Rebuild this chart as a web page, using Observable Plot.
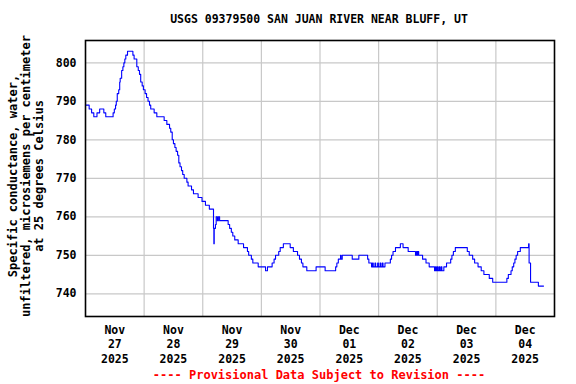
<!DOCTYPE html>
<html>
<head>
<meta charset="utf-8">
<script src="https://cdn.jsdelivr.net/npm/d3@7"></script>
<script src="https://cdn.jsdelivr.net/npm/@observablehq/plot@0.6"></script>
<style>
  html, body { margin: 0; padding: 0; background: white; }
  #wrap { position: relative; width: 576px; height: 384px; font-family: "DejaVu Sans Mono", monospace; font-weight: bold; }
  #title { position: absolute; left: 0; width: 638px; top: 12px; text-align: center; font-size: 11.5px; color: black; }
  #ylab { position: absolute; left: 27px; top: 176px; width: 320px; margin-left: -160px; margin-top: -20px; height: 40px;
          transform: rotate(-90deg); text-align: center; font-size: 12px; line-height: 13px; white-space: pre; color: black; }
  #caption { position: absolute; left: 0; width: 638px; top: 368px; text-align: center; font-size: 12px; color: #ff0000; white-space: pre; }
  #chart { position: absolute; left: 0; top: 0; }
</style>
</head>
<body>
<div id="wrap">
  <div id="chart"></div>
  <div id="title"></div>
  <div id="ylab"></div>
  <div id="caption"></div>
</div>
<script>
const titleText = "USGS 09379500 SAN JUAN RIVER NEAR BLUFF, UT";
const yLabelLines = ["Specific conductance, water,", "unfiltered, microsiemens per centimeter", "at 25 degrees Celsius"];
const captionText = "---- Provisional Data Subject to Revision ----";

// series start (hours are counted from 2025-11-27 00:00)
const seriesStart = "2025-11-27T00:00:00Z";
const seriesEnd = "2025-12-05T00:00:00Z";

// hours since start, and specific conductance (uS/cm)
const hours = [
  0, 1.5, 2.5, 3.4, 4.7, 5.8, 7.5, 8.3, 11.3, 11.8, 12.3, 12.6, 13.0, 13.6, 14.0, 14.2, 14.8, 15.3, 15.7, 16.1,
  16.5, 17.2, 19.4, 19.9, 21.0, 21.6, 22.1, 22.6, 23.2, 23.7, 24.4, 25.0, 25.6, 26.2, 26.7, 28.1, 29.2, 32.2, 33.3, 34.4,
  34.9, 35.5, 36.0, 36.6, 37.1, 37.7, 38.2, 38.7, 39.3, 39.8, 40.4, 41.5, 42.0, 43.4, 44.2, 46.1, 47.7, 49.1, 50.7, 52.4,
  52.55, 52.7, 53.2, 53.5, 54.0, 54.4, 54.9, 58.4, 59.0, 59.7, 60.3, 61.1, 62.5, 64.7, 66.3, 66.8, 67.9, 68.5, 70.7, 73.7,
  74.5, 76.4, 77.2, 77.8, 79.1, 79.7, 81.0, 83.8, 85.1, 86.8, 87.6, 88.4, 89.0, 90.6, 94.4, 98.1, 102.4, 102.9, 103.5, 104.0,
  104.4, 104.6, 105.1, 109.2, 111.9, 115.5, 116.0, 117.1, 117.5, 117.8, 118.5, 118.8, 119.6, 119.9, 120.6, 120.9, 121.5, 121.8, 122.6, 124.8,
  125.3, 125.9, 126.9, 128.9, 130.0, 132.1, 135.1, 135.5, 135.8, 136.0, 136.4, 138.0, 139.4, 140.7, 142.9, 143.3, 143.6, 144.0, 144.3, 144.8,
  145.1, 145.6, 145.9, 146.7, 147.8, 149.5, 150.0, 150.6, 151.4, 156.3, 157.1, 158.5, 159.3, 160.7, 162.0, 163.1, 165.3, 166.7, 172.5, 173.1,
  174.2, 174.7, 175.3, 175.8, 176.3, 176.9, 178.0, 181.4, 181.6, 182.2, 185.4, 187.5
];
const values = [
  789, 788, 787, 786, 787, 788, 787, 786, 787, 788, 789, 790, 792, 793, 795, 796, 798, 799, 800, 801,
  802, 803, 802, 801, 799, 798, 797, 795, 794, 793, 792, 791, 790, 789, 788, 787, 786, 785, 784, 783,
  782, 780, 779, 778, 777, 776, 774, 773, 772, 771, 770, 769, 768, 767, 766, 765, 764, 763, 762, 757,
  753, 757, 758, 760, 759, 760, 759, 758, 757, 756, 755, 754, 753, 752, 751, 750, 749, 748, 747, 746,
  747, 748, 749, 750, 751, 752, 753, 752, 751, 750, 749, 748, 747, 746, 747, 746, 747, 748, 749, 749,
  750, 749, 750, 749, 750, 749, 748, 747, 748, 747, 748, 747, 748, 747, 748, 747, 748, 747, 748, 749,
  750, 751, 752, 753, 752, 751, 750, 751, 750, 751, 750, 749, 748, 747, 746, 747, 746, 747, 746, 747,
  746, 747, 746, 747, 748, 749, 750, 751, 752, 751, 750, 749, 748, 747, 746, 745, 744, 743, 744, 745,
  746, 747, 748, 749, 750, 751, 752, 753, 748, 743, 742, 742
];

const yTicks = [740, 750, 760, 770, 780, 790, 800];
const yDomain = [734.1, 805.8];
const gridDays = ["2025-11-28", "2025-11-29", "2025-11-30", "2025-12-01", "2025-12-02", "2025-12-03", "2025-12-04"];
const tickDays = ["2025-11-27", "2025-11-28", "2025-11-29", "2025-11-30", "2025-12-01", "2025-12-02", "2025-12-03", "2025-12-04"];
const tickMonths = ["Nov", "Nov", "Nov", "Nov", "Dec", "Dec", "Dec", "Dec"];
const tickDayNums = ["27", "28", "29", "30", "01", "02", "03", "04"];
const tickYears = ["2025", "2025", "2025", "2025", "2025", "2025", "2025", "2025"];

const t0 = new Date(seriesStart).getTime();
const data = hours.map((h, i) => ({t: new Date(t0 + h * 3600e3), v: values[i]}));
const gridDates = gridDays.map(d => new Date(d + "T00:00:00Z"));
const tickDates = tickDays.map(d => new Date(d + "T12:00:00Z"));
const labelMap = new Map(tickDates.map((d, i) => [+d, tickMonths[i] + "\n" + tickDayNums[i] + "\n" + tickYears[i]]));

const chart = Plot.plot({
  width: 576,
  height: 384,
  marginTop: 40,
  marginBottom: 68,
  marginLeft: 85,
  marginRight: 22,
  style: {fontFamily: "'DejaVu Sans Mono', monospace", fontWeight: "bold", fontSize: "11.5px", color: "black", background: "white", overflow: "visible"},
  x: {type: "utc", domain: [new Date(seriesStart), new Date(seriesEnd)]},
  y: {domain: yDomain},
  marks: [
    Plot.gridX(gridDates, {stroke: "#c8c8c8", strokeOpacity: 1, strokeWidth: 1.2}),
    Plot.gridY(yTicks, {stroke: "#c8c8c8", strokeOpacity: 1, strokeWidth: 1.2}),
    Plot.line(data, {x: "t", y: "v", curve: "step-after", stroke: "#0000ff", strokeWidth: 1.1}),
    Plot.axisY(yTicks, {tickSize: 0, tickPadding: 9, label: null, fill: "black"}),
    Plot.axisX(tickDates, {tickSize: 0, tickPadding: 8, label: null, fill: "black", lineHeight: 1.22, tickFormat: d => labelMap.get(+d)}),
    Plot.frame({stroke: "black", strokeWidth: 1.6})
  ]
});
document.getElementById("chart").appendChild(chart);
document.getElementById("title").textContent = titleText;
document.getElementById("ylab").textContent = yLabelLines.join("\n");
document.getElementById("caption").textContent = captionText;
</script>
</body>
</html>
